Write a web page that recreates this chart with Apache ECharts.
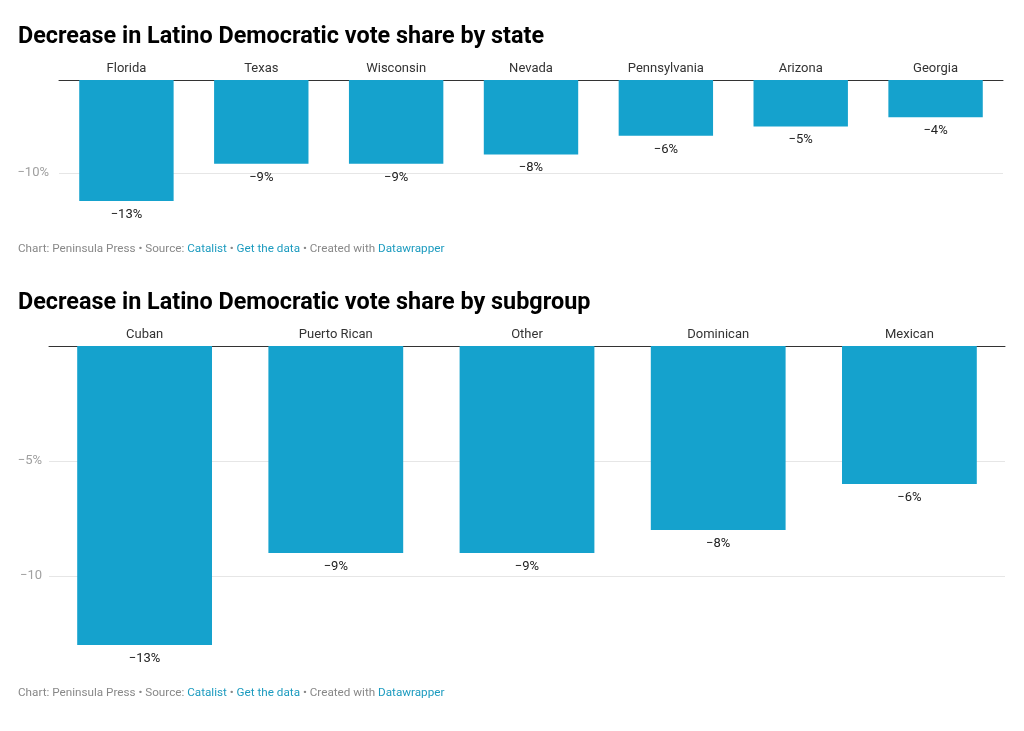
<!DOCTYPE html>
<html><head><meta charset="utf-8">
<script src="https://cdn.jsdelivr.net/npm/echarts@6/dist/echarts.min.js"></script>
<style>html,body{margin:0;padding:0;background:#fff}#c{width:1024px;height:731px}</style>
</head><body><div id="c"></div>
<script>
const stateCategories = ['Florida','Texas','Wisconsin','Nevada','Pennsylvania','Arizona','Georgia'];
const stateValues = [-13,-9,-9,-8,-6,-5,-4];
const stateTicks = [-10];
const stateTickLabels = ['\u221210%'];

const subgroupCategories = ['Cuban','Puerto Rican','Other','Dominican','Mexican'];
const subgroupValues = [-13,-9,-9,-8,-6];
const subgroupTicks = [-5,-10];
const subgroupTickLabels = ['\u22125%','\u221210'];

const title1 = 'Decrease in Latino Democratic vote share by state';
const title2 = 'Decrease in Latino Democratic vote share by subgroup';

const FONT = 'Roboto, "Noto Sans", sans-serif';
const BAR = '#15a2cd';
const chart = echarts.init(document.getElementById('c'), null, {renderer:'canvas'});

function footer(top){
  return {
    left: 13, top: top,
    text: '{g|Chart: Peninsula Press • Source: }{b|Catalist}{g| • }{b|Get the data}{g| • Created with }{b|Datawrapper}',
    textStyle: {
      fontFamily: FONT, fontSize: 11.7, fontWeight: 'normal',
      rich: {
        g: {color:'#888888', fontFamily: FONT, fontSize: 11.7, fontWeight: 'normal'},
        b: {color:'#1c9bbf', fontFamily: FONT, fontSize: 11.7, fontWeight: 'normal'}
      }
    }
  };
}
function labelFmt(ticks, labels){
  return function(v){ const i = ticks.indexOf(v); return i >= 0 ? labels[i] : ''; };
}
function pct(p){ return '\u2212' + Math.abs(p.value) + '%'; }

chart.setOption({
  animation: false,
  title: [
    {left: 13, top: 21, text: title1, textStyle:{fontFamily: FONT, fontSize: 23.4, fontWeight: 'bold', color:'#000'}},
    {left: 13, top: 287, text: title2, textStyle:{fontFamily: FONT, fontSize: 23.4, fontWeight: 'bold', color:'#000'}},
    footer(238),
    footer(682)
  ],
  grid: [
    {left: 59, right: 21, top: 80, height: 121, containLabel: false},
    {left: 49, right: 19, top: 346, height: 299, containLabel: false}
  ],
  xAxis: [
    {type:'category', gridIndex:0, position:'top', data: stateCategories,
     axisLine:{show:true, lineStyle:{color:'#333', width:1}}, axisTick:{show:false},
     axisLabel:{color:'#333', fontFamily: FONT, fontSize: 13, margin: 5}},
    {type:'category', gridIndex:1, position:'top', data: subgroupCategories,
     axisLine:{show:true, lineStyle:{color:'#333', width:1}}, axisTick:{show:false},
     axisLabel:{color:'#333', fontFamily: FONT, fontSize: 13, margin: 5}}
  ],
  yAxis: [
    {type:'value', gridIndex:0, min:-13, max:0,
     axisLine:{show:false},
     axisTick:{show:false, customValues: stateTicks},
     axisLabel:{customValues: stateTicks, formatter: labelFmt(stateTicks, stateTickLabels), color:'#a0a0a0', fontFamily: FONT, fontSize: 13, margin: 10},
     splitLine:{show:true, lineStyle:{color:'#e6e6e6', width:1}}},
    {type:'value', gridIndex:1, min:-13, max:0,
     axisLine:{show:false},
     axisTick:{show:false, customValues: subgroupTicks},
     axisLabel:{customValues: subgroupTicks, formatter: labelFmt(subgroupTicks, subgroupTickLabels), color:'#a0a0a0', fontFamily: FONT, fontSize: 13, margin: 7},
     splitLine:{show:true, lineStyle:{color:'#e6e6e6', width:1}}}
  ],
  series: [
    {type:'bar', xAxisIndex:0, yAxisIndex:0, data: stateValues, barCategoryGap:'30%',
     itemStyle:{color: BAR}, silent:true,
     label:{show:true, position:'bottom', distance:7, formatter: pct, color:'#222', fontFamily: FONT, fontSize: 13}},
    {type:'bar', xAxisIndex:1, yAxisIndex:1, data: subgroupValues, barCategoryGap:'29.5%',
     itemStyle:{color: BAR}, silent:true,
     label:{show:true, position:'bottom', distance:7, formatter: pct, color:'#222', fontFamily: FONT, fontSize: 13}}
  ]
});
</script></body></html>
